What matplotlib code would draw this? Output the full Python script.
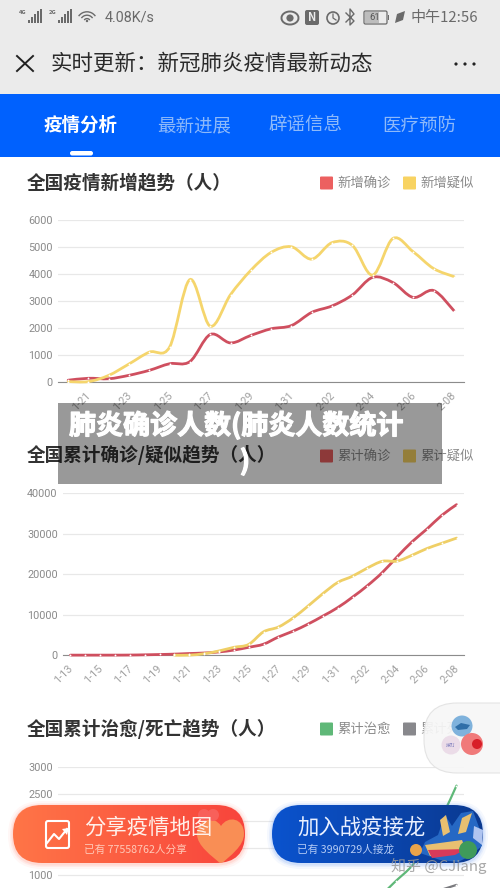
#!/usr/bin/env python3
"""Phone screenshot of the epidemic dashboard, 500x888 px."""
import numpy as np
import matplotlib
matplotlib.use('Agg')
import matplotlib.pyplot as plt
from matplotlib.patches import FancyBboxPatch, Circle, Rectangle, PathPatch, Arc, Polygon
from matplotlib.path import Path
from matplotlib.transforms import ScaledTranslation
import matplotlib.patheffects as pe

plt.rcParams['font.family'] = ['Noto Sans CJK SC', 'DejaVu Sans']

# ── data ─────────────────────────────────────────────────────────
days_new = ['1-20', '1-21', '1-22', '1-23', '1-24', '1-25', '1-26', '1-27', '1-28', '1-29',
            '1-30', '1-31', '2-01', '2-02', '2-03', '2-04', '2-05', '2-06', '2-07', '2-08']
new_confirmed = [77, 149, 131, 259, 444, 688, 769, 1771, 1459, 1737,
                 1982, 2102, 2590, 2829, 3235, 3887, 3694, 3143, 3399, 2656]
new_suspected = [27, 26, 257, 680, 1118, 1309, 3806, 2077, 3248, 4148,
                 4812, 5019, 4562, 5173, 5072, 3971, 5328, 4833, 4214, 3916]

days_total = ['1-13', '1-14', '1-15', '1-16', '1-17', '1-18', '1-19'] + days_new
total_confirmed = [41, 41, 41, 45, 62, 121, 198, 291, 440, 571, 830, 1287, 1975, 2744,
                   4515, 5974, 7711, 9692, 11791, 14380, 17205, 20438, 24324, 28018,
                   31161, 34546, 37198]
total_suspected = [27, 37, 393, 1072, 1965, 2684, 5794, 6973, 9239, 12167,
                   15238, 17988, 19544, 21558, 23214, 23260, 24702, 26359, 27657, 28942]

total_cured = [0, 0, 0, 0, 0, 5, 17, 25, 25, 25, 28, 34, 38, 49,
               60, 103, 124, 171, 243, 328, 475, 632, 892, 1153, 1540, 2050, 2649]
total_dead = [1, 1, 1, 2, 2, 3, 4, 6, 9, 17, 26, 41, 56, 80,
              106, 132, 170, 213, 259, 304, 361, 425, 490, 563, 636, 722, 811]

ticks_new = [0, 1000, 2000, 3000, 4000, 5000, 6000]
ticks_total = [0, 10000, 20000, 30000, 40000]
ticks_cured = [1000, 1500, 2000, 2500, 3000]

# ── figure and pixel layer ───────────────────────────────────────
W, H = 500, 888
fig = plt.figure(figsize=(W / 100, H / 100), dpi=100)
fig.patch.set_facecolor('#FFFFFF')


def px_axes(zo):
    a = fig.add_axes([0, 0, 1, 1], zorder=zo)
    a.set_xlim(0, W)
    a.set_ylim(H, 0)
    a.axis('off')
    a.patch.set_alpha(0)
    return a


page = px_axes(0)
top = px_axes(5)

GRAY = '#8A8A8A'


def txt(a, x, y, s, **kw):
    d = dict(fontsize=9.5, color='#333333', ha='left', va='center')
    d.update(kw)
    return a.text(x, y, s, **d)


def smooth(x, y):
    # cardinal spline through the points, like the web chart's smooth lines
    x, y = np.asarray(x, float), np.asarray(y, float)
    verts, codes = [(x[0], y[0])], [Path.MOVETO]
    for i in range(len(x) - 1):
        a, b = max(i - 1, 0), min(i + 2, len(x) - 1)
        verts.append((x[i] + (x[i + 1] - x[a]) / 6, y[i] + (y[i + 1] - y[a]) / 6))
        verts.append((x[i + 1] - (x[b] - x[i]) / 6, y[i + 1] - (y[b] - y[i]) / 6))
        verts.append((x[i + 1], y[i + 1]))
        codes += [Path.CURVE4] * 3
    return Path(verts, codes)


def chart(left, right, y_top, y_bot, ymax, yticks, labels, series, ymin=0, show_x=True):
    ax = fig.add_axes([left / W, 1 - y_bot / H, (right - left) / W, (y_bot - y_top) / H], zorder=1)
    ax.patch.set_alpha(0)
    n = len(labels)
    ax.set_xlim(0, n)
    ax.set_ylim(ymin, ymax)
    for s in ['top', 'right', 'left']:
        ax.spines[s].set_visible(False)
    ax.spines['bottom'].set_color('#8C8C8C')
    ax.spines['bottom'].set_linewidth(0.8)
    ax.set_yticks(yticks)
    ax.set_yticklabels([str(t) for t in yticks], fontsize=7.8, color=GRAY, family='Roboto')
    ax.tick_params(axis='y', length=0, pad=3.8)
    ax.grid(axis='y', color='#E8E8E8', lw=0.9)
    ax.set_axisbelow(True)
    if show_x:
        idx = list(range(1, n, 2)) if n % 2 == 0 else list(range(0, n, 2))
        ax.set_xticks([i + 0.5 for i in idx])
        ax.set_xticklabels([labels[i] for i in idx], fontsize=7.8, color='#A0A0A0', family='Roboto',
                           rotation=45, ha='right', va='top', rotation_mode='anchor')
        ax.tick_params(axis='x', length=0, pad=6)
        shift = ScaledTranslation(-2.5 / 100, 0, fig.dpi_scale_trans)
        for lab in ax.get_xticklabels():
            lab.set_transform(lab.get_transform() + shift)
    else:
        ax.set_xticks([])
    for vals, start, col, lw in series:
        xs = [start + i + 0.5 for i in range(len(vals))]
        ax.add_patch(PathPatch(smooth(xs, vals), fc='none', ec=col, lw=lw, zorder=3,
                               capstyle='round', clip_on=False))
        ax.plot(xs, vals, ls='none', marker='o', ms=1.3, mfc='#FFFFFF', mec='none', zorder=4,
                clip_on=False)
    return ax


def legend(y, items):
    for x, name, col in items:
        page.add_patch(FancyBboxPatch((x, y - 6.5), 13, 13, boxstyle='round,pad=0,rounding_size=1',
                                      fc=col, ec='none'))
        txt(page, x + 17, y, name, color=GRAY, fontsize=9.6)


# ── status bar and header ────────────────────────────────────────
page.add_patch(Rectangle((0, 0), W, 94, fc='#EBEBEB', ec='none'))
page.add_patch(Rectangle((0, 94), W, 63, fc='#0061FE', ec='none'))

ICON = '#6A6A6A'
for x0, tag in [(19, '4G'), (49, '2G')]:
    txt(page, x0, 12, tag, fontsize=4.2, color=ICON, fontweight='bold')
    for i, h in enumerate([3, 6, 9, 12, 14]):
        page.add_patch(Rectangle((x0 + 9 + i * 3, 23 - h), 1.8, h, fc=ICON, ec='none'))
for r in [4, 8, 12]:
    page.add_patch(Arc((87, 22), r * 1.7, r * 1.7, theta1=215, theta2=325, ec=ICON, lw=1.0))
page.add_patch(Circle((87, 21), 1.2, fc=ICON, ec='none'))
txt(page, 105, 17, '4.08K/s', fontsize=10.4, color=ICON, family='Roboto')

page.add_patch(Arc((290, 18), 17, 13, ec=ICON, lw=1.4))
page.add_patch(Circle((290, 18), 3.6, fc=ICON, ec='none'))
page.add_patch(FancyBboxPatch((305, 10), 14, 15, boxstyle='round,pad=0,rounding_size=2', fc=ICON, ec='none'))
txt(page, 312, 17.5, 'N', fontsize=8, color='#EBEBEB', ha='center', fontweight='bold')
page.add_patch(Circle((333, 18), 6, fc='none', ec=ICON, lw=1.2))
page.plot([333, 333, 336], [14, 18, 20], color=ICON, lw=0.9)
page.plot([346, 354, 350, 350, 354, 346], [13, 21, 25, 9, 14, 22], color=ICON, lw=1.0)
page.add_patch(FancyBboxPatch((364, 11), 23, 13, boxstyle='round,pad=0,rounding_size=1.5',
                              fc='#EBEBEB', ec=ICON, lw=0.9))
page.add_patch(Rectangle((365, 12), 14, 11, fc='#BDBDBD', ec='none'))
page.add_patch(Rectangle((388, 15), 1.4, 5, fc=ICON, ec='none'))
txt(page, 375, 17.5, '61', fontsize=6.8, color='#555555', ha='center', family='Roboto')
page.add_patch(Polygon([(395, 23), (397, 14), (405, 11), (403, 20)], fc=ICON, ec='none'))
txt(page, 410, 22, '中午12:56', fontsize=10.8, color=ICON, va='baseline')

page.plot([17, 33], [56, 71], color='#222222', lw=1.4)
page.plot([33, 17], [56, 71], color='#222222', lw=1.4)
txt(page, 50, 70, '实时更新：新冠肺炎疫情最新动态', fontsize=15.45, color='#2A2A2A', va='baseline')
for x in [456, 465, 474]:
    page.add_patch(Circle((x, 64), 1.6, fc='#222222', ec='none'))

# ── tabs ─────────────────────────────────────────────────────────
txt(page, 81, 131, '疫情分析', fontsize=13.3, color='#FFFFFF', ha='center', va='baseline', fontweight='bold')
for x, s in [(194, '最新进展'), (306, '辟谣信息'), (419, '医疗预防')]:
    txt(page, x, 131, s, fontsize=13.3, color='#8DB9FA', ha='center', va='baseline')
page.add_patch(FancyBboxPatch((70, 151), 23, 4.5, boxstyle='round,pad=0,rounding_size=2.2',
                              fc='#FFFFFF', ec='none'))

# ── chart 1: daily new ───────────────────────────────────────────
txt(page, 27, 188, '全国疫情新增趋势（人）', fontsize=13.4, fontweight='bold', va='baseline')
legend(183, [(320, '新增确诊', '#EC6060'), (403, '新增疑似', '#F8D362')])
chart(58, 464, 220.3, 382.3, 6000, ticks_new, days_new,
      [(new_confirmed, 0, '#CF4F5F', 2.0), (new_suspected, 0, '#F5D56C', 2.0)])

# ── chart 2: cumulative ──────────────────────────────────────────
txt(page, 27, 461, '全国累计确诊/疑似趋势（人）', fontsize=13.4, fontweight='bold', va='baseline')
legend(456, [(320, '累计确诊', '#EC6060'), (403, '累计疑似', '#F8D362')])
chart(63, 464, 493.3, 655.3, 40000, ticks_total, days_total,
      [(total_confirmed, 0, '#CF4F5F', 2.0), (total_suspected, 7, '#EFCF66', 2.0)])

# ── chart 3: cured / dead, cut off at the bottom of the screen ───
txt(page, 27, 735, '全国累计治愈/死亡趋势（人）', fontsize=13.4, fontweight='bold', va='baseline')
legend(729, [(320, '累计治愈', '#5FB878'), (403, '累计死亡', '#88888C')])
chart(58, 464, 766.7, 888, 3000, ticks_cured, days_total,
      [(total_cured, 0, '#5FB878', 1.6), (total_dead, 0, '#7A7A7E', 1.6)],
      ymin=3000 - 121.3 / 0.054, show_x=False).spines['bottom'].set_visible(False)

# ── dark caption band ────────────────────────────────────────────
top.add_patch(Rectangle((58, 403), 384, 81, fc='#000000', ec='none', alpha=0.4))
stroke = [pe.withStroke(linewidth=0.9, foreground='#FFFFFF')]
txt(top, 69, 434, '肺炎确诊人数(肺炎人数统计', fontsize=19.45, color='#FFFFFF', fontweight='bold',
    path_effects=stroke, va='baseline')
txt(top, 245, 470, ')', fontsize=19.45, color='#FFFFFF', fontweight='bold', ha='center', va='baseline',
    path_effects=stroke)

# ── floating widget ──────────────────────────────────────────────
top.add_patch(FancyBboxPatch((424, 703), 110, 70, boxstyle='round,pad=0,rounding_size=33',
                             fc='#F7F7F7', ec='#E2E2E2', lw=0.8, alpha=0.93))
top.add_patch(Circle((462, 726), 10.5, fc='#7FB2DC', ec='none'))
top.add_patch(Polygon([(455, 727), (461, 723), (470, 725), (467, 729), (458, 730)], fc='#2F6FA8', ec='none'))
top.add_patch(Circle((451, 745), 9.5, fc='#EBDCE8', ec='none'))
txt(top, 451, 745, '拨打', fontsize=3.6, color='#7C7CBC', ha='center')
top.add_patch(Circle((472, 744), 11, fc='#F07A7A', ec='none'))
top.add_patch(Circle((477, 744), 5, fc='#D81E28', ec='none'))

# ── bottom buttons ───────────────────────────────────────────────


def pill(x0, x1, y0, y1, c0, c1, glow):
    for pad, al in [(5, 0.05), (3, 0.08), (1.5, 0.12)]:
        top.add_patch(FancyBboxPatch((x0 - pad, y0 - pad + 1), x1 - x0 + 2 * pad, y1 - y0 + 2 * pad,
                                     boxstyle=f'round,pad=0,rounding_size={(y1 - y0) / 2 + pad}',
                                     fc=glow, ec='none', alpha=al))
    p = FancyBboxPatch((x0, y0), x1 - x0, y1 - y0, boxstyle=f'round,pad=0,rounding_size={(y1 - y0) / 2}',
                       fc='none', ec='none')
    top.add_patch(p)
    c0, c1 = np.array(matplotlib.colors.to_rgb(c0)), np.array(matplotlib.colors.to_rgb(c1))
    grad = np.linspace(0, 1, 128)[None, :, None] * (c1 - c0) + c0
    im = top.imshow(grad, extent=(x0, x1, y1, y0), aspect='auto', zorder=2)
    im.set_clip_path(p)
    return p


orange = pill(13, 245, 805, 863, '#FF7547', '#F8443C', '#FF6A50')
blue = pill(272, 483, 805, 863, '#0A53CE', '#0A3990', '#3E7CF0')
top.set_xlim(0, W)
top.set_ylim(H, 0)

# heart on the orange button
heart = Path([(221, 826), (214, 815), (197, 818), (197, 834), (197, 846), (212, 856), (221, 864),
              (230, 856), (244, 846), (244, 834), (244, 818), (228, 815), (221, 826)],
             [Path.MOVETO] + [Path.CURVE4] * 12)
hp = PathPatch(heart, fc='#F98E55', ec='none', zorder=3)
top.add_patch(hp)
hp.set_clip_path(orange)
top.add_patch(Circle((204, 815), 6, fc='#F8605A', ec='none', zorder=3))
top.add_patch(Circle((213, 815), 6, fc='#F8605A', ec='none', zorder=3))

# chart icon
top.add_patch(FancyBboxPatch((46, 821), 23, 27, boxstyle='round,pad=0,rounding_size=2', fc='none',
                             ec='#FFFFFF', lw=1.5, zorder=4))
top.plot([47, 54, 59, 67], [843, 834, 839, 829], color='#FFFFFF', lw=1.5, zorder=4)
top.add_patch(Polygon([(69, 828), (62, 829), (67, 835)], fc='#FFFFFF', ec='none', zorder=4))

txt(top, 84, 834, '分享疫情地图', fontsize=15.4, color='#FFF0EA', zorder=4, va='baseline')
txt(top, 84, 853, '已有 77558762人分享', fontsize=7.7, color='#FFC9B8', zorder=4, va='baseline')
txt(top, 297, 834, '加入战疫接龙', fontsize=15.4, color='#EAF0FF', zorder=4, va='baseline')
txt(top, 297, 853, '已有 3990729人接龙', fontsize=7.7, color='#B4CBF5', zorder=4, va='baseline')

# dragon, roughly
top.add_patch(Polygon([(438, 835), (445, 815), (452, 826), (461, 813), (473, 811), (480, 830), (482, 846),
                       (470, 856), (458, 862), (440, 860), (420, 853), (425, 842)], fc='#2668C4', ec='none', zorder=3))
top.add_patch(Polygon([(440, 820), (446, 815), (450, 832), (443, 836)], fc='#E8C070', ec='none', zorder=4))
top.add_patch(Polygon([(462, 818), (472, 813), (466, 832), (458, 834)], fc='#E8C070', ec='none', zorder=4))
top.add_patch(Polygon([(474, 826), (483, 830), (482, 845), (473, 838)], fc='#AFC4F0', ec='none', zorder=4))
top.add_patch(Polygon([(425, 845), (462, 840), (466, 850), (430, 856)], fc='#E8C070', ec='none', zorder=4))
top.add_patch(Polygon([(428, 850), (466, 849), (455, 855), (432, 858)], fc='#D83A5A', ec='none', zorder=4))
top.add_patch(Circle((468, 850), 9, fc='#3F9A5A', ec='none', zorder=4))
top.add_patch(Circle((416, 850), 6, fc='#E9A34A', ec='none', zorder=4))

txt(top, 391, 871, '知乎 @CJiang', fontsize=10.8, color='#9A9A9A', alpha=0.85, zorder=6, va='baseline')

fig.savefig('out.png', dpi=100, facecolor='#FFFFFF')
plt.close(fig)
